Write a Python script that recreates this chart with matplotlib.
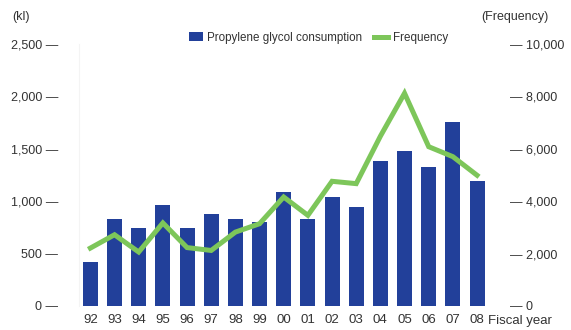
import matplotlib
matplotlib.use('Agg')
import matplotlib.pyplot as plt
import numpy as np

years = ['92', '93', '94', '95', '96', '97', '98', '99', '00',
         '01', '02', '03', '04', '05', '06', '07', '08']
consumption = [420, 830, 740, 965, 745, 880, 830, 800, 1090,
               830, 1040, 945, 1385, 1480, 1330, 1760, 1195]
frequency = [2210, 2720, 2060, 3170, 2230, 2120, 2820, 3140, 4160,
             3460, 4760, 4670, 6480, 8120, 6080, 5700, 4990]
left_ticks = [0, 500, 1000, 1500, 2000, 2500]
right_ticks = [0, 2000, 4000, 6000, 8000, 10000]

bar_color = '#22409a'
line_color = '#7dc65a'
text_color = '#333333'

plt.rcParams['font.family'] = ['Liberation Sans', 'DejaVu Sans']
plt.rcParams['font.size'] = 9

fig = plt.figure(figsize=(5.71, 3.3), dpi=100)
ax = fig.add_axes([79 / 571, 24 / 330, 421 / 571, 262 / 330])
x = np.arange(len(years))

bars = ax.bar(x, consumption, width=0.62, color=bar_color,
              label='Propylene glycol consumption', zorder=2)
ax.set_ylim(0, 2500)
ax.set_xlim(-0.47, 16.95)
ax.set_yticks(left_ticks)
ax.set_yticklabels([f'{v:,} —' for v in left_ticks], color=text_color)
ax.set_xticks(x)
ax.set_xticklabels(years, color=text_color, fontsize=9.5)
ax.tick_params(length=0, pad=6)
ax.tick_params(axis='y', pad=15)

ax2 = ax.twinx()
line, = ax2.plot(x, frequency, color=line_color, lw=3.6,
                 solid_joinstyle='miter', label='Frequency', zorder=3)
ax2.set_ylim(0, 10000)
ax2.set_yticks(right_ticks)
ax2.set_yticklabels([f'— {v:,}' for v in right_ticks], color=text_color)
ax2.tick_params(length=0, pad=7)

for a in (ax, ax2):
    for side in ('top', 'right', 'bottom'):
        a.spines[side].set_visible(False)
ax2.spines['left'].set_visible(False)
ax.spines['left'].set_color('#f4f4f4')

leg = fig.legend([bars, line], ['Propylene glycol consumption', 'Frequency'],
                 loc='center left', bbox_to_anchor=(184 / 571, 1 - 38 / 330),
                 ncol=2, frameon=False, handlelength=1.2, handleheight=0.8,
                 handletextpad=0.4, columnspacing=1.0, borderaxespad=0,
                 labelcolor=text_color, fontsize=8.4)

fig.text(12 / 571, 1 - 17 / 330, '(kl)', color=text_color, va='center')
fig.text(549 / 571, 1 - 17 / 330, '(Frequency)', color=text_color,
         va='center', ha='right')
fig.text(488 / 571, 1 - 321 / 330, 'Fiscal year', color=text_color,
         va='center', fontsize=9.5)

fig.savefig('out.png', dpi=100)
